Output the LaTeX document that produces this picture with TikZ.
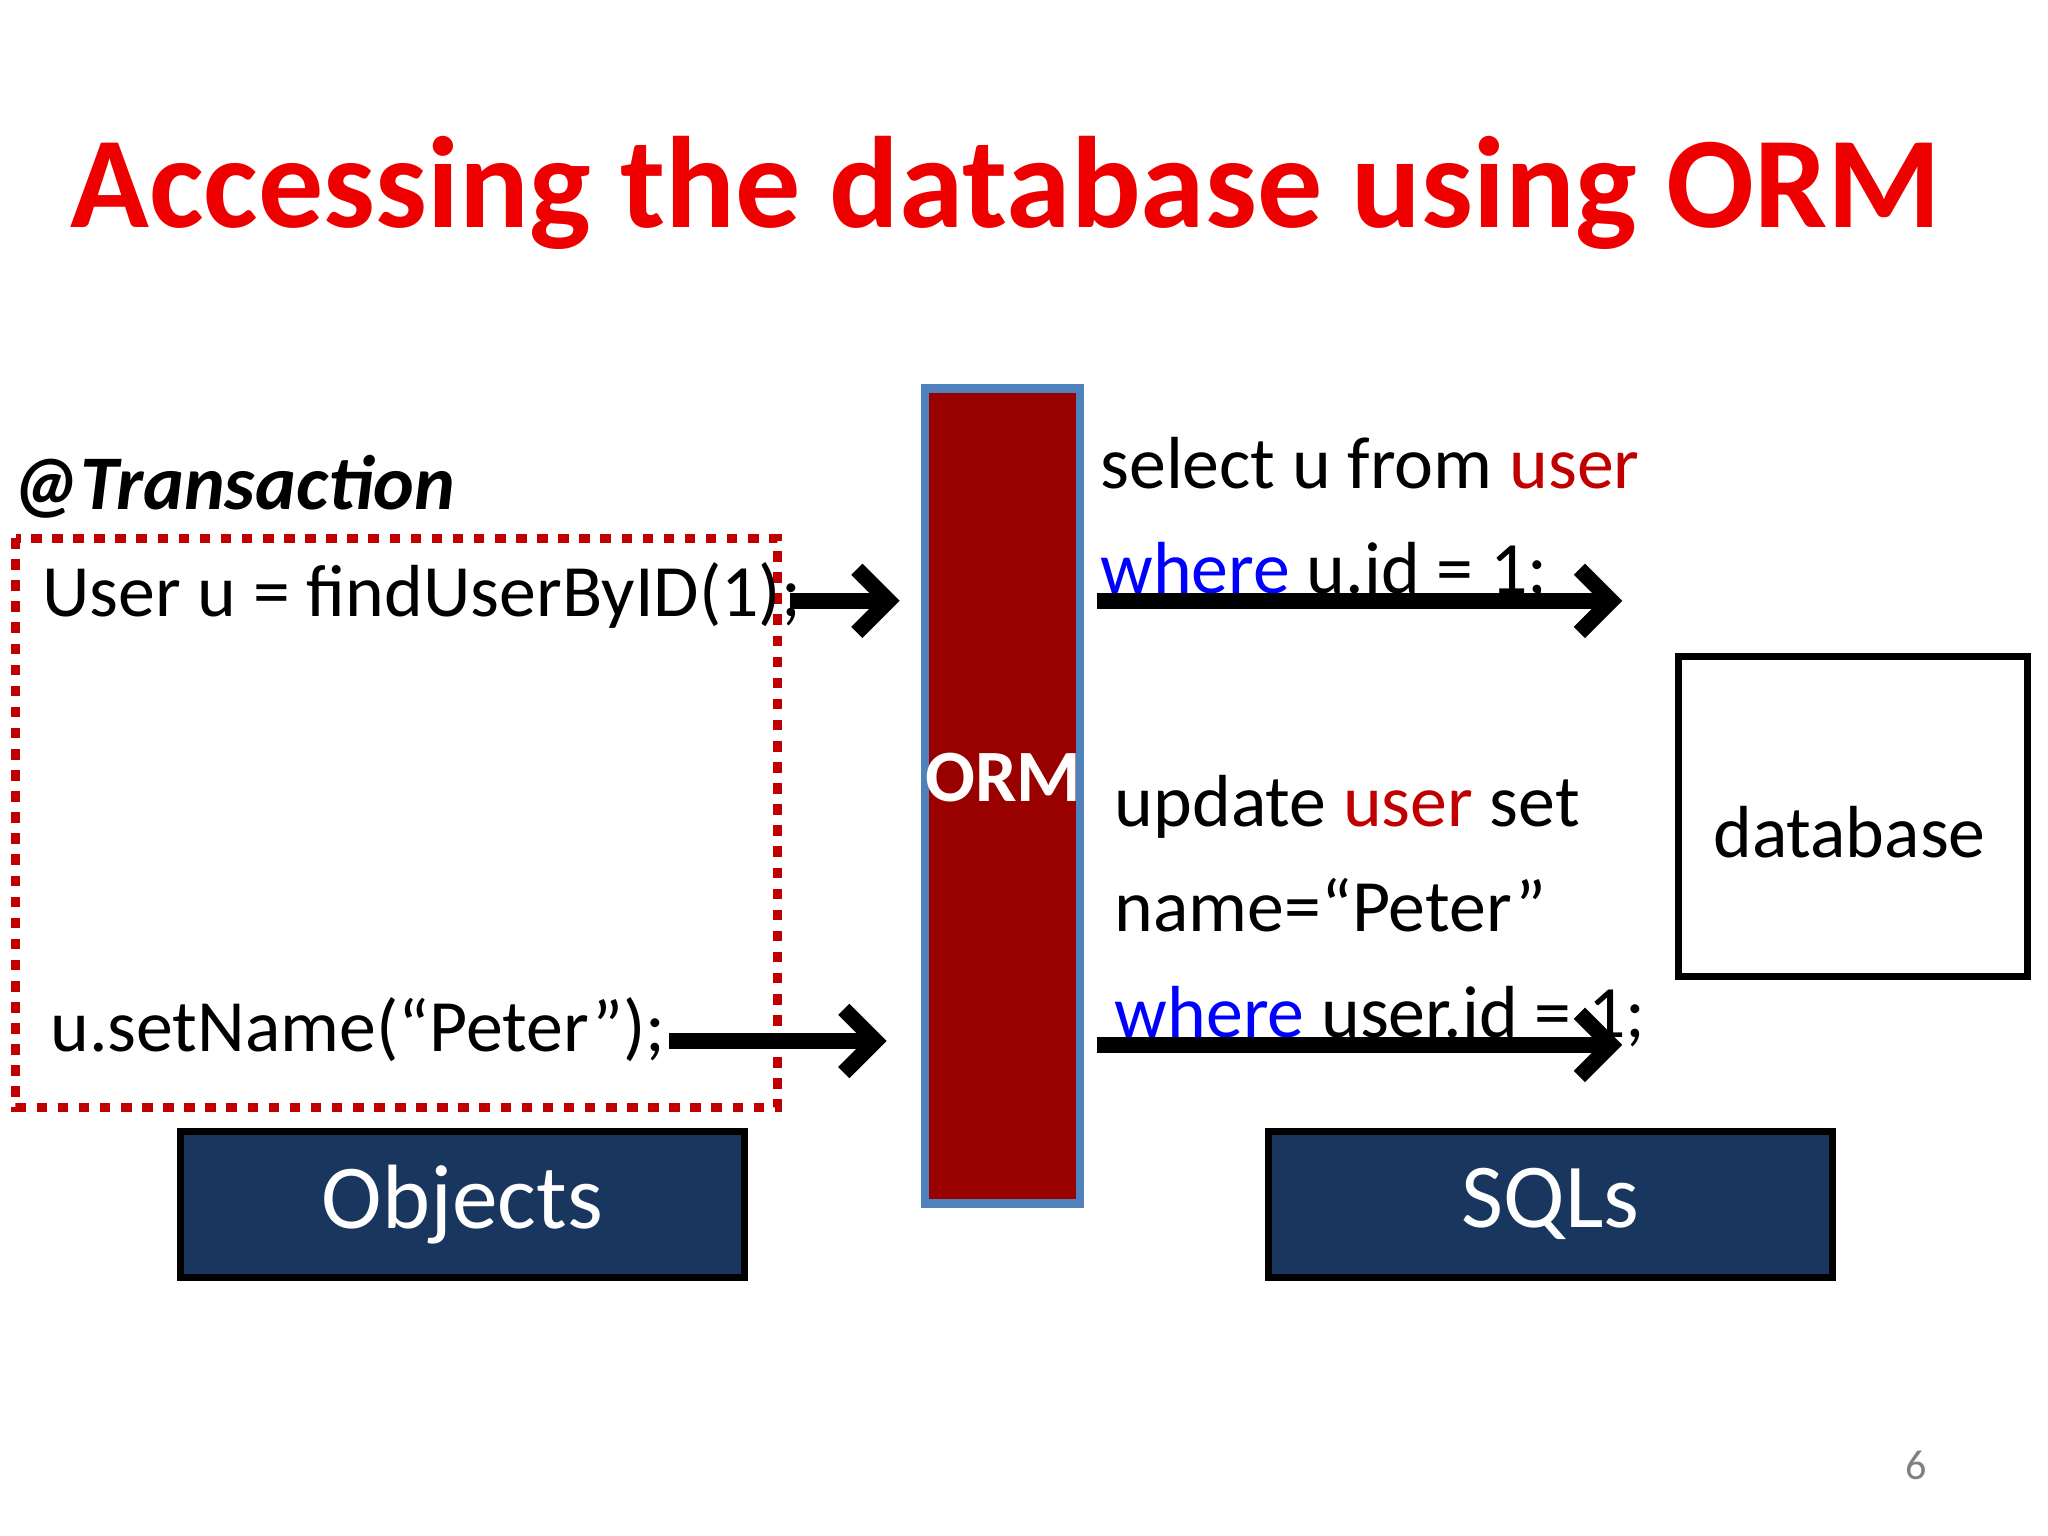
\documentclass[tikz,border=0pt]{standalone}
\usepackage{fontspec}
\setmainfont{Carlito}
\usetikzlibrary{shapes.geometric,arrows.meta,positioning,calc}
\definecolor{titlered}{RGB}{238,0,0}
\definecolor{ormred}{RGB}{153,0,0}
\definecolor{ormedge}{RGB}{79,129,189}
\definecolor{navy}{RGB}{24,54,94}
\definecolor{sqlred}{RGB}{192,0,0}
\definecolor{sqlblue}{RGB}{0,0,255}

\begin{document}
\begin{tikzpicture}[x=0.013061cm, y=-0.013061cm,
    code/.style={anchor=west, font=\fontsize{21}{30}\selectfont, inner sep=0pt},
    sql/.style={anchor=north west, align=left, font=\fontsize{21}{30}\selectfont, inner sep=0pt},
    flow/.style={line width=4.5pt, -{Straight Barb[length=9pt, width=18pt, line width=4.5pt]}},
    label/.style={rectangle, draw=black, line width=2pt, fill=navy, text=white, minimum width=5.64cm, minimum height=1.46cm, font=\fontsize{26}{30}\selectfont}
]
\useasboundingbox (0,0) rectangle (1568,1176);

% Title
\node[font=\fontsize{37}{40}\selectfont\bfseries, text=titlered] (title) at (770,148) {Accessing the database using ORM};

% Transaction block
\node[anchor=west, font=\fontsize{22}{26}\selectfont\bfseries\itshape, inner sep=0pt] (trans) at (8,373) {@Transaction};
\draw[sqlred, line width=2.5pt, dash pattern=on 3pt off 3pt] (12,412) rectangle (595,848);
\node[code] (find) at (32,456) {User u = findUserByID(1);};
\node[code] (setname) at (38,788) {u.setName(“Peter”);};

% ORM layer
\node[rectangle, draw=ormedge, line width=2.5pt, fill=ormred, minimum width=1.55cm, minimum height=8.15cm] (orm) at (767.5,609.5) {};
\node[text=white, font=\fontsize{21}{24}\selectfont\bfseries] (ormtext) at (768,595) {ORM};

% Arrows into ORM
\coordinate (in1) at (605,460);
\coordinate (in2) at (512,797);
\draw[flow] (in1) -- ($(orm.west |- in1)+(-16,0)$);
\draw[flow] (in2) -- ($(orm.west |- in2)+(-26,0)$);

% SQL text
\node[sql] (select) at (842,334) {select u from \textcolor{sqlred}{user}\\\textcolor{sqlblue}{where} u.id = 1;};
\node[sql] (update) at (853,593) {update \textcolor{sqlred}{user} set\\name=“Peter”\\\textcolor{sqlblue}{where} user.id = 1;};

% Arrows out of ORM
\coordinate (out1) at (1242,460);
\coordinate (out2) at (1242,800);
\draw[flow] ($(orm.east |- out1)+(10,0)$) -- (out1);
\draw[flow] ($(orm.east |- out2)+(10,0)$) -- (out2);

% Database
\node[cylinder, shape border rotate=90, draw=black, line width=2pt, fill=white, minimum width=3.49cm, minimum height=3.2cm, aspect=0.5, inner sep=0pt] (db) at (1418.5,626.5) {};
\node[font=\fontsize{21}{24}\selectfont] (dbtext) at (1416,637) {database};

% Labels
\node[label] (objects) at (354,922) {Objects};
\node[label] (sqls) at (1187,922) {SQLs};

% Page number
\node[text=gray, font=\fontsize{12}{14}\selectfont] (page) at (1467,1122) {6};
\end{tikzpicture}
\end{document}
